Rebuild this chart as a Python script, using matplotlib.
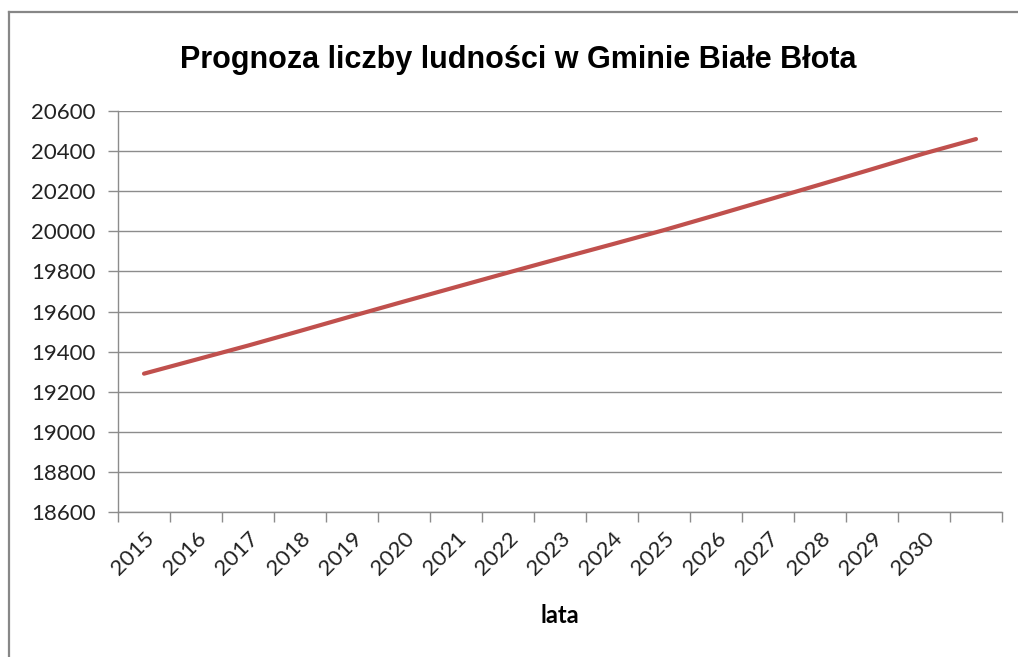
import numpy as np
import matplotlib.pyplot as plt
from matplotlib.lines import Line2D

# dane
lata = ['2015', '2016', '2017', '2018', '2019', '2020', '2021', '2022',
        '2023', '2024', '2025', '2026', '2027', '2028', '2029', '2030', '']
ludnosc = [19290, 19360, 19430, 19503, 19577, 19650, 19722, 19794,
           19865, 19935, 20006, 20081, 20157, 20233, 20310, 20388, 20460]

W, H = 1018, 657
fig = plt.figure(figsize=(W / 100, H / 100), dpi=100)
fig.patch.set_facecolor('white')

# ramka wykresu (lewa i gorna krawedz)
border = '#878787'
fig.add_artist(Line2D([9 / W, 9 / W], [0, 1 - 12 / H], color=border, lw=1.6))
fig.add_artist(Line2D([9 / W, 1], [1 - 12 / H, 1 - 12 / H], color=border, lw=1.6))

ax = fig.add_axes([118 / W, 1 - 512 / H, (1002 - 118) / W, (512 - 111) / H])

x = np.arange(len(ludnosc))
ax.plot(x, ludnosc, color='#C0504D', lw=3.0, solid_capstyle='round', zorder=3)

ax.set_xlim(-0.5, len(ludnosc) - 0.5)
ax.set_ylim(18600, 20600)
ax.set_yticks(np.arange(18600, 20601, 200))
ax.grid(axis='y', color='#8c8c8c', lw=1.0)
ax.set_axisbelow(True)

# podzialki na granicach kategorii, etykiety na srodkach
ax.set_xticks(np.arange(-0.5, len(ludnosc)), labels=[''] * (len(ludnosc) + 1))
ax.set_xticks(x, labels=lata, minor=True)
ax.tick_params(axis='x', which='major', length=7, color='#8c8c8c', width=1)
ax.tick_params(axis='x', which='minor', length=0, pad=12)
ax.tick_params(axis='y', length=7, color='#8c8c8c', width=1, pad=9)
for lab in ax.get_xticklabels(minor=True):
    lab.set_rotation(45)
    lab.set_ha('right')
    lab.set_va('top')
    lab.set_rotation_mode('anchor')
for lab in ax.get_xticklabels(minor=True) + ax.get_yticklabels():
    lab.set_fontfamily('Lato')
    lab.set_fontsize(16)
    lab.set_color('#222222')

for s in ['top', 'right']:
    ax.spines[s].set_visible(False)
for s in ['left', 'bottom']:
    ax.spines[s].set_color('#8c8c8c')
    ax.spines[s].set_linewidth(1)

ax.set_xlabel('lata', fontfamily='Lato', fontweight='bold', fontsize=17, labelpad=18)

fig.text(518 / W, 1 - 60 / H, 'Prognoza liczby ludności w Gminie Białe Błota',
         ha='center', va='center', fontsize=22, fontweight='bold',
         family=['Liberation Sans', 'DejaVu Sans'])

plt.savefig('out.png', dpi=100)
